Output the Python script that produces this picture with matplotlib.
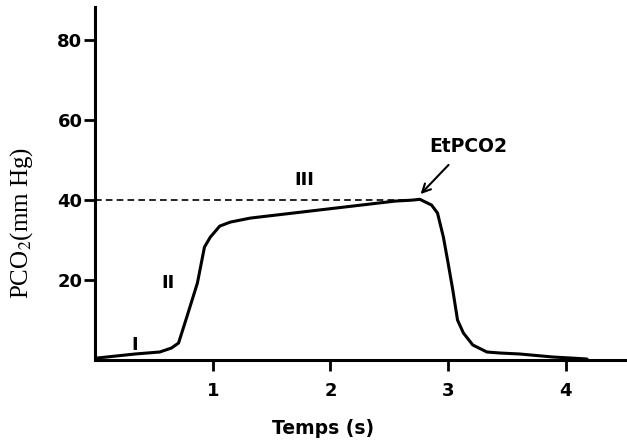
import matplotlib
matplotlib.use("Agg")
import matplotlib.pyplot as plt

# capnogram trace
t = [0.0, 0.02, 0.34, 0.55, 0.65, 0.71, 0.78, 0.87, 0.93, 0.98, 1.06, 1.15, 1.32,
     2.55, 2.70, 2.76, 2.86, 2.91, 2.96, 3.0, 3.04, 3.08, 3.13, 3.21, 3.33, 3.44,
     3.61, 3.89, 4.04, 4.18]
pco2 = [0.3, 0.5, 1.5, 2.0, 3.0, 4.25, 10.75, 19.25, 28.25, 30.75, 33.5, 34.5, 35.5,
        39.75, 40.0, 40.2, 38.75, 36.75, 30.75, 24.25, 17.5, 10.0, 6.75, 3.75, 2.0, 1.75,
        1.5, 0.75, 0.5, 0.25]

et_value = 40
et_time = 2.76
xticks = [1, 2, 3, 4]
yticks = [20, 40, 60, 80]

bold = dict(fontweight='bold', family='DejaVu Sans')

fig = plt.figure(figsize=(6.27, 4.4), dpi=100)
ax = fig.add_axes([95/627, 80/440, 532/627, 353/440])

ax.plot(t, pco2, color='black', lw=2.2, solid_capstyle='round')
ax.plot([0, et_time], [et_value, et_value], color='black', lw=1.2, ls=(0, (4, 2.5)))

ax.annotate('', xy=(2.75, 41), xytext=(3.02, 49.3),
            arrowprops=dict(arrowstyle='->', color='black', lw=1.5, mutation_scale=15))
ax.text(3.17, 53.3, 'EtPCO2', ha='center', va='center', fontsize=13.5, **bold)
ax.text(0.34, 3.8, 'I', ha='center', va='center', fontsize=13, **bold)
ax.text(0.62, 19.3, 'II', ha='center', va='center', fontsize=13, **bold)
ax.text(1.78, 45, 'III', ha='center', va='center', fontsize=13, **bold)

ax.set_xlim(0, 4.52)
ax.set_ylim(0, 88.3)
ax.set_xticks(xticks)
ax.set_yticks(yticks)
for lab in ax.get_xticklabels() + ax.get_yticklabels():
    lab.set_fontfamily('DejaVu Sans')
    lab.set_fontweight('bold')
    lab.set_fontsize(13)
ax.tick_params(axis='both', direction='out', length=8, width=2, pad=1)
ax.tick_params(axis='x', pad=8)

for s in ['top', 'right']:
    ax.spines[s].set_visible(False)
for s in ['left', 'bottom']:
    ax.spines[s].set_linewidth(2.2)

fig.text(323/627, 1 - 428/440, 'Temps (s)', ha='center', va='center', fontsize=13.5, **bold)
fig.text(22/627, 1 - 223/440, r'PCO$_2$(mm Hg)', rotation=90, ha='center', va='center',
         fontsize=18, family='Liberation Serif', math_fontfamily='stix')

fig.savefig('out.png', dpi=100)
